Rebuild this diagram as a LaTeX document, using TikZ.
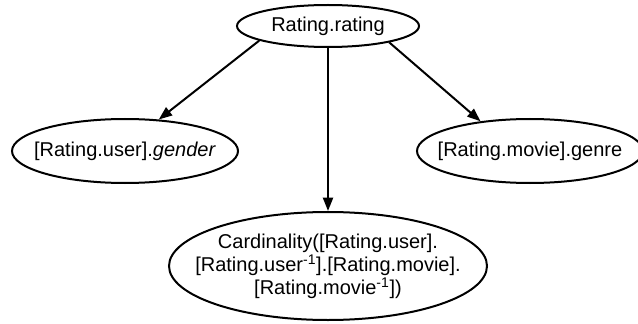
\documentclass[tikz,border=0pt]{standalone}
\usepackage{fontspec}
\setmainfont{Liberation Sans}
\usepackage{tikz}
\usetikzlibrary{arrows.meta,shapes.geometric}

\begin{document}
\begin{tikzpicture}[x=0.75pt,y=-0.75pt,line width=1.5pt]
  \tikzset{ellnode/.style={draw,ellipse,inner sep=0pt},
           lbl/.style={font=\fontsize{15}{17.25}\selectfont,align=center,inner sep=0pt},
           edge/.style={-{Triangle[length=10pt,width=7.5pt]}}}
  \useasboundingbox (0,0) rectangle (638,324);
  % ---------------- top
  \node[ellnode,minimum width=136.5pt,minimum height=31.5pt] (rating) at (328,26) {};
  \node[lbl] (ratingtxt) at (rating.center) {Rating.rating};
  % ---------------- left
  \node[ellnode,minimum width=169.5pt,minimum height=48pt] (gender) at (125,151) {};
  \node[lbl] (gendertxt) at (gender.center) {[Rating.user].\textit{gender}};
  % ---------------- right
  \node[ellnode,minimum width=169.5pt,minimum height=48pt] (genre) at (530,151) {};
  \node[lbl] (genretxt) at (genre.center) {[Rating.movie].genre};
  % ---------------- bottom
  \node[ellnode,minimum width=238.5pt,minimum height=81pt] (card) at (328,266) {};
  \node[lbl] (cardtxt) at (card.center) {Cardinality([Rating.user].\\\relax
    [Rating.user\textsuperscript{-1}].[Rating.movie].\\\relax
    [Rating.movie\textsuperscript{-1}])};
  % ---------------- edges
  \draw[edge] (rating.192) -- (gender.43);
  \draw[edge] (rating.345) -- (genre.149);
  \draw[edge] (rating) -- (card);
\end{tikzpicture}
\end{document}
